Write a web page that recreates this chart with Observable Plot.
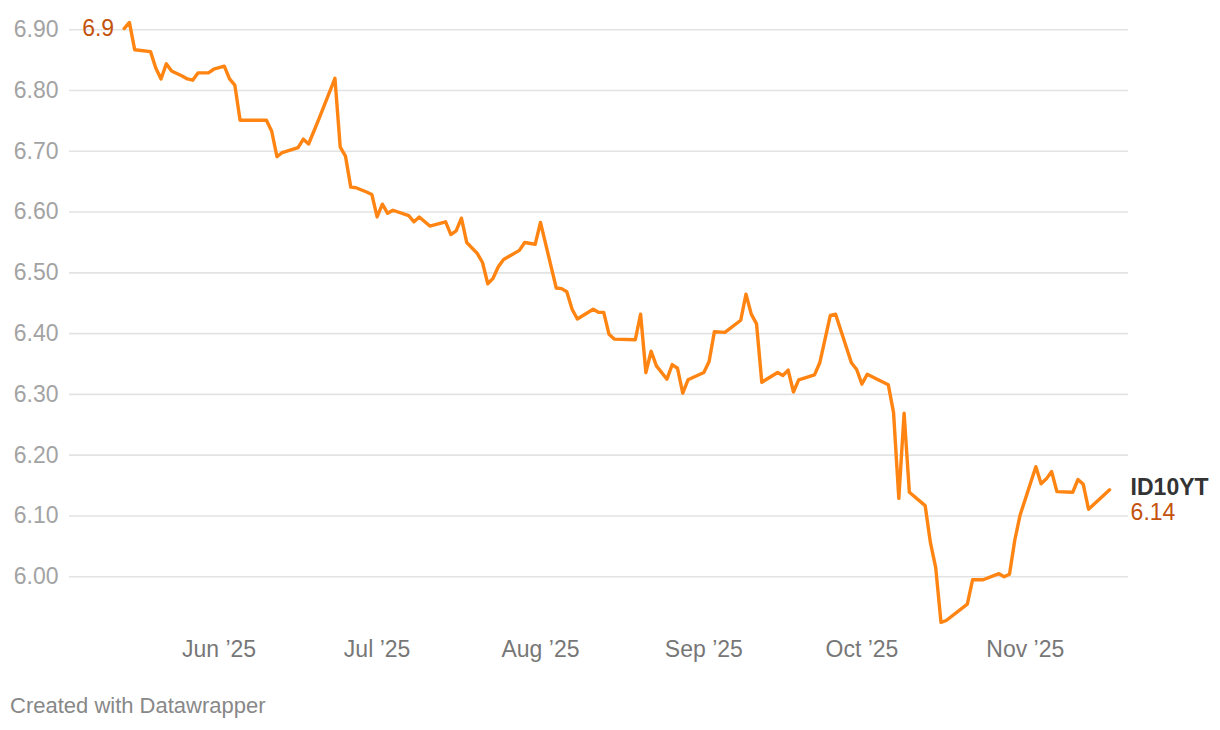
<!DOCTYPE html>
<html>
<head>
<meta charset="utf-8">
<script src="https://cdn.jsdelivr.net/npm/d3@7"></script>
<script src="https://cdn.jsdelivr.net/npm/@observablehq/plot@0.6"></script>
<style>
  html, body { margin: 0; padding: 0; background: #fff; }
  #wrap { position: relative; width: 1220px; height: 730px; font-family: "Liberation Sans", Arial, Helvetica, sans-serif; }
  #caption { position: absolute; left: 10px; top: 693px; font-size: 22px; color: #888; }
</style>
</head>
<body>
<div id="wrap">
  <div id="chart"></div>
  <div id="caption">Created with Datawrapper</div>
</div>
<script>
const dates = [
  "2025-05-14","2025-05-15","2025-05-16","2025-05-19","2025-05-20","2025-05-21","2025-05-22","2025-05-23",
  "2025-05-25","2025-05-26","2025-05-27","2025-05-28","2025-05-30","2025-05-31","2025-06-02","2025-06-03",
  "2025-06-04","2025-06-05","2025-06-10","2025-06-11","2025-06-12","2025-06-13","2025-06-16","2025-06-17",
  "2025-06-18","2025-06-19","2025-06-20","2025-06-23","2025-06-24","2025-06-25","2025-06-26","2025-06-27",
  "2025-06-29","2025-06-30","2025-07-01","2025-07-02","2025-07-03","2025-07-04","2025-07-07","2025-07-08",
  "2025-07-09","2025-07-11","2025-07-14","2025-07-15","2025-07-16","2025-07-17","2025-07-18","2025-07-20",
  "2025-07-21","2025-07-22","2025-07-23","2025-07-24","2025-07-25","2025-07-28","2025-07-29","2025-07-31",
  "2025-08-01","2025-08-04","2025-08-05","2025-08-06","2025-08-07","2025-08-08","2025-08-11","2025-08-12",
  "2025-08-13","2025-08-14","2025-08-15","2025-08-19","2025-08-20","2025-08-21","2025-08-22","2025-08-23",
  "2025-08-25","2025-08-26","2025-08-27","2025-08-28","2025-08-29","2025-09-01","2025-09-02","2025-09-03",
  "2025-09-05","2025-09-08","2025-09-09","2025-09-10","2025-09-11","2025-09-12","2025-09-15","2025-09-16",
  "2025-09-17","2025-09-18","2025-09-19","2025-09-22","2025-09-23","2025-09-25","2025-09-26","2025-09-29",
  "2025-09-30","2025-10-01","2025-10-02","2025-10-06","2025-10-07","2025-10-08","2025-10-09","2025-10-10",
  "2025-10-13","2025-10-14","2025-10-15","2025-10-16","2025-10-17","2025-10-21","2025-10-22","2025-10-24",
  "2025-10-27","2025-10-28","2025-10-29","2025-10-30","2025-10-31","2025-11-03","2025-11-04","2025-11-05",
  "2025-11-06","2025-11-07","2025-11-10","2025-11-11","2025-11-12","2025-11-13","2025-11-17"
];
const values = [
  6.902,6.912,6.867,6.864,6.837,6.819,6.844,6.832,
  6.824,6.819,6.817,6.829,6.829,6.835,6.840,6.819,
  6.809,6.751,6.751,6.733,6.691,6.698,6.706,6.720,
  6.712,6.733,6.754,6.820,6.707,6.692,6.641,6.640,
  6.633,6.629,6.592,6.613,6.598,6.603,6.594,6.584,
  6.592,6.577,6.584,6.563,6.569,6.590,6.550,6.532,
  6.517,6.482,6.491,6.510,6.522,6.537,6.550,6.547,
  6.583,6.475,6.474,6.469,6.440,6.424,6.440,6.435,
  6.435,6.399,6.391,6.390,6.432,6.336,6.371,6.347,
  6.325,6.349,6.343,6.302,6.324,6.336,6.354,6.403,
  6.402,6.422,6.465,6.432,6.416,6.320,6.336,6.331,
  6.340,6.304,6.324,6.332,6.352,6.430,6.432,6.352,
  6.341,6.317,6.333,6.316,6.270,6.129,6.269,6.139,
  6.117,6.056,6.015,5.925,5.928,5.955,5.995,5.995,
  6.005,6.000,6.004,6.060,6.101,6.181,6.153,6.161,
  6.173,6.140,6.139,6.160,6.152,6.111,6.143
];
const seriesName = "ID10YT";
const startLabel = "6.9";
const endLabel = "6.14";
const yTicks = [6.0, 6.1, 6.2, 6.3, 6.4, 6.5, 6.6, 6.7, 6.8, 6.9];
const monthTicks = ["2025-06-01","2025-07-01","2025-08-01","2025-09-01","2025-10-01","2025-11-01"];
const monthLabels = ["Jun \u201925","Jul \u201925","Aug \u201925","Sep \u201925","Oct \u201925","Nov \u201925"];
const xDomain = ["2025-05-03T15:07Z", "2025-11-20T14:00Z"];
const yDomain = [5.9, 6.93];

const parse = d3.utcParse("%Y-%m-%d");
const data = dates.map((d, i) => ({date: parse(d), value: values[i]}));
const tickDates = monthTicks.map(parse);
const labelByTime = new Map(tickDates.map((d, i) => [+d, monthLabels[i]]));
const first = data[0], last = data[data.length - 1];

const chart = Plot.plot({
  width: 1220,
  height: 667,
  marginLeft: 69,
  marginRight: 92,
  marginTop: 11,
  marginBottom: 30,
  style: {fontFamily: "'Liberation Sans', Arial, Helvetica, sans-serif", fontSize: "22px", background: "#fff", overflow: "visible"},
  x: {type: "utc", domain: xDomain.map(d => new Date(d))},
  y: {domain: yDomain},
  marks: [
    Plot.gridY(yTicks, {stroke: "#e3e3e3", strokeOpacity: 1, strokeWidth: 1.6}),
    Plot.axisY(yTicks, {tickSize: 0, tickPadding: 11, fill: "#a3a3a3", fontSize: 23, tickFormat: d3.format(".2f"), label: null}),
    Plot.axisX(tickDates, {tickSize: 0, tickPadding: 3, fill: "#777", fontSize: 23, tickFormat: d => labelByTime.get(+d), label: null}),
    Plot.line(data, {x: "date", y: "value", stroke: "#ff8412", strokeWidth: 3.4, strokeLinejoin: "round", strokeLinecap: "round"}),
    Plot.text([first], {x: "date", y: "value", text: () => startLabel, textAnchor: "end", dx: -10, fill: "#c4520c", fontSize: 23}),
    Plot.text([last], {x: "date", y: "value", text: () => seriesName, textAnchor: "start", dx: 21, dy: -2, fill: "#333", fontWeight: "bold", fontSize: 23}),
    Plot.text([last], {x: "date", y: "value", text: () => endLabel, textAnchor: "start", dx: 21, dy: 23, fill: "#c4520c", fontSize: 23})
  ]
});
document.getElementById("chart").appendChild(chart);
</script>
</body>
</html>
